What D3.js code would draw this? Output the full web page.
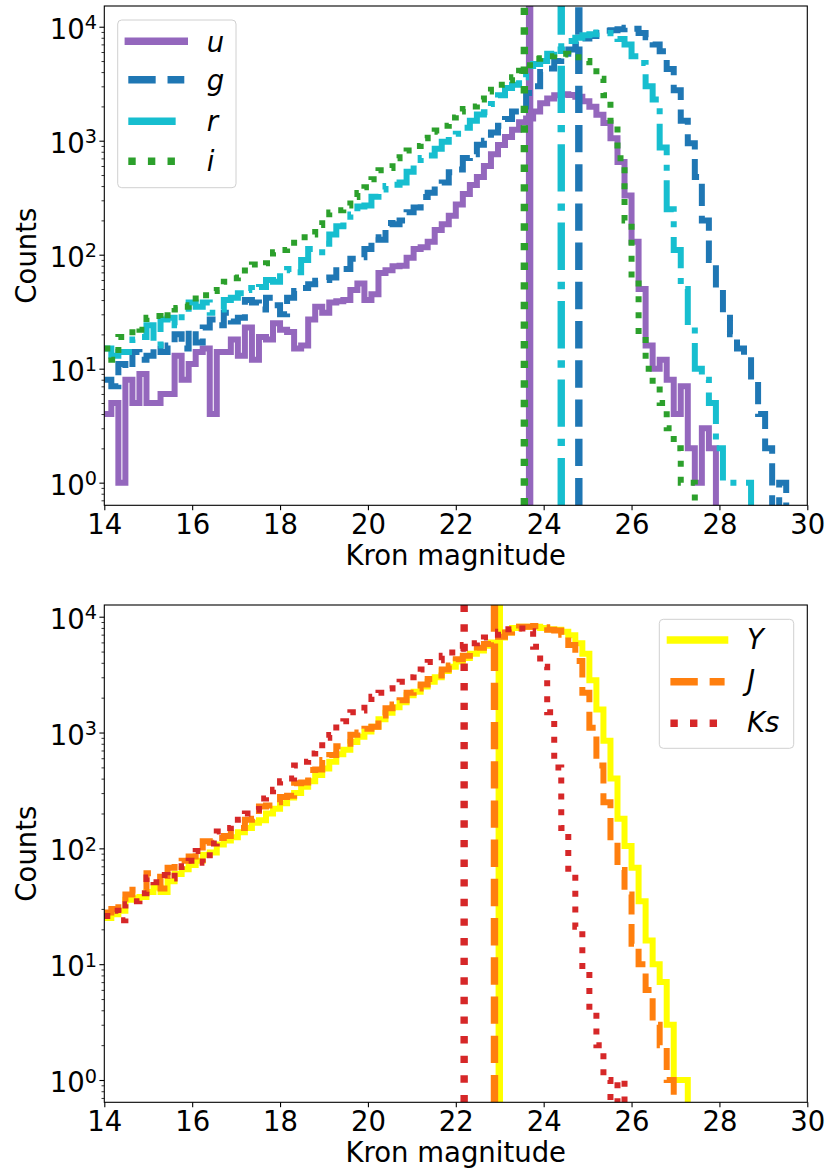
<!DOCTYPE html>
<html>
<head>
<meta charset="utf-8">
<script src="https://cdn.jsdelivr.net/npm/d3@7"></script>
<style>
  body { margin: 0; background: #fff; }
  svg text { font-family: 'DejaVu Sans', sans-serif; fill: #000; }
</style>
</head>
<body>
<svg id="chart" width="827" height="1169"></svg>
<script>
// histogram bins: 0.16 mag wide, first bin starts at 14.0
const binStart = 14;
const binWidth = 0.16;

// optical bands (top panel)
const uCounts = [4, 5, 1, 8, 5, 9, 5, 5, 6, 6,
  13, 8, 11, 14, 15, 4, 14, 14, 18, 13,
  23, 12, 19, 18, 25, 22, 21, 15, 16, 27,
  35, 31, 38, 39, 40, 49, 56, 40, 45, 69,
  73, 79, 80, 94, 112, 116, 130, 165, 185, 220,
  275, 340, 408, 480, 600, 760, 915, 1080, 1250, 1450,
  1570, 1800, 2130, 2350, 2500, 2560, 2520, 2430, 2220, 1990,
  1690, 1430, 1050, 650, 330, 130, 50, 16, 10, 12,
  8, 4, 7, 2, 1, 3, 2, 0];
const gCounts = [8, 7, 11, 10, 14, 12, 13, 16, 14, 16,
  20, 15, 22, 17, 23, 27, 24, 31, 26, 28,
  40, 38, 33, 42, 36, 30, 42, 48, 51, 55,
  59, 60, 63, 78, 75, 92, 95, 112, 142, 135,
  190, 185, 200, 236, 260, 320, 350, 408, 430, 530,
  560, 705, 760, 920, 1000, 1180, 1350, 1550, 1800, 2000,
  2620, 3000, 4000, 4300, 5000, 5800, 6300, 7000, 7900, 8300,
  8800, 9200, 9300, 9500, 9800, 9600, 8800, 8100, 7000, 6100,
  4250, 2770, 1500, 950, 480, 200, 90, 50, 28, 20,
  15, 13, 8, 4, 2, 0, 1, 0];
const rCounts = [15, 13, 14, 14, 18, 19, 24, 16, 27, 28,
  24, 30, 38, 35, 38, 31, 33, 40, 42, 46,
  51, 49, 52, 60, 58, 73, 75, 70, 90, 112,
  105, 125, 150, 178, 180, 225, 265, 270, 323, 373,
  400, 410, 430, 535, 620, 705, 740, 850, 980, 1080,
  1150, 1300, 1500, 1700, 1780, 2100, 2500, 2900, 3100, 3600,
  3900, 4700, 5000, 5800, 6300, 7200, 7500, 8000, 8400, 8600,
  8900, 8800, 8200, 7800, 7000, 5500, 4800, 3000, 2300, 870,
  250, 110, 50, 24, 10, 8, 5, 2, 1, 1,
  1, 1, 0];
const iCounts = [15, 12, 19, 19, 23, 22, 28, 29, 27, 34,
  33, 35, 36, 45, 44, 48, 49, 58, 62, 63,
  78, 82, 80, 84, 105, 110, 118, 138, 142, 150,
  182, 210, 235, 245, 270, 320, 347, 390, 460, 550,
  575, 700, 800, 820, 900, 1050, 1200, 1230, 1350, 1600,
  1800, 1900, 2000, 2300, 2700, 2800, 3100, 3400, 3600, 4100,
  4600, 5250, 5300, 5500, 5800, 5800, 5700, 5400, 5000, 4500,
  3500, 2500, 1500, 700, 200, 60, 20, 10, 7, 5,
  3, 2, 1, 1, 0];

// near-infrared bands (bottom panel)
const yCounts = [25, 27, 29, 36, 37, 38, 42, 46, 42, 52,
  60, 66, 72, 78, 88, 92, 108, 117, 125, 138,
  150, 166, 175, 200, 220, 245, 275, 300, 340, 380,
  430, 490, 560, 650, 710, 830, 920, 1020, 1120, 1300,
  1480, 1650, 1830, 2100, 2250, 2500, 2750, 3000, 3400, 3700,
  4100, 4400, 4800, 5100, 5600, 6000, 6600, 7300, 8000, 8200,
  8200, 8200, 8000, 7800, 7700, 7400, 6900, 5900, 4800, 2830,
  1580, 850, 400, 180, 105, 68, 35, 16, 10, 7,
  3, 1, 1, 0];
const jCounts = [28, 30, 34, 40, 44, 44, 61, 57, 45, 68,
  75, 78, 85, 91, 115, 112, 123, 128, 145, 150,
  177, 180, 230, 235, 250, 277, 285, 365, 370, 475,
  480, 580, 640, 760, 800, 955, 1000, 1080, 1120, 1400,
  1620, 1750, 1900, 2200, 2400, 2600, 2900, 3100, 3500, 3800,
  4300, 4600, 5000, 5400, 5800, 6200, 6700, 7300, 7900, 8200,
  8200, 8300, 8100, 7700, 7600, 7000, 5700, 4150, 2200, 1100,
  520, 250, 115, 65, 40, 15, 10, 6, 3, 2,
  1, 0];
const ksCounts = [26, 29, 24, 33, 35, 41, 56, 51, 59, 55,
  62, 70, 78, 95, 75, 110, 140, 150, 165, 177,
  200, 215, 270, 280, 320, 380, 400, 520, 560, 660,
  700, 900, 950, 1200, 1250, 1500, 1550, 1800, 2040, 2200,
  2400, 2600, 2750, 3000, 3330, 3500, 4070, 4200, 4600, 4900,
  5300, 5700, 5900, 6300, 6600, 7000, 7400, 7800, 8000, 7900,
  7500, 5500, 3700, 1500, 500, 150, 60, 21, 9, 4,
  2, 1, 0, 1, 0];

const topBands = ['u', 'g', 'r', 'i'];
const topLimits = [23.68, 24.8, 24.4, 23.56];
const bottomBands = ['Y', 'J', 'Ks'];
const bottomLimits = [22.99, 22.88, 22.19];

const xTicks = [14, 16, 18, 20, 22, 24, 26, 28, 30];
const yTicks = [1, 10, 100, 1000, 10000];
const yExponents = ['0', '1', '2', '3', '4'];

// histogram outlines are a bit thinner than the limit lines
const HIST_LW = 6;
const LINE_LW = 7.4;
const PATTERN = {
  solid: null,
  dashed: [3.7, 1.6],
  dotted: [1, 1.65],
  dashdot: [6.4, 1.6, 1, 1.6]
};
const dash = (style, lw) => PATTERN[style] ? PATTERN[style].map(d => d * lw).join(',') : null;
const FONT = 27.5;

const svg = d3.select('#chart');
const x = d3.scaleLinear().domain([14, 30]).range([104.3, 807.3]);

function stepPoints(counts, floor) {
  const pts = [];
  counts.forEach((c, k) => {
    const v = Math.max(c, floor);
    pts.push([binStart + k * binWidth, v]);
    pts.push([binStart + (k + 1) * binWidth, v]);
  });
  pts.push([binStart + counts.length * binWidth, floor]);
  return pts;
}

function drawPanel(id, opts) {
  const { top, bottom, yDomain, series, legend } = opts;
  const y = d3.scaleLog().domain(yDomain).range([bottom, top]);
  const floor = 0.05;

  svg.append('clipPath').attr('id', id)
    .append('rect')
    .attr('x', x(14)).attr('y', top)
    .attr('width', x(30) - x(14)).attr('height', bottom - top);

  const plot = svg.append('g').attr('clip-path', `url(#${id})`);
  const line = d3.line().x(d => x(d[0])).y(d => y(d[1]));

  series.forEach(s => {
    plot.append('path')
      .attr('d', line(stepPoints(s.counts, floor)))
      .attr('fill', 'none')
      .attr('stroke', s.color)
      .attr('stroke-width', HIST_LW)
      .attr('stroke-linejoin', 'miter')
      .attr('stroke-dasharray', dash(s.style, HIST_LW));

    plot.append('line')
      .attr('x1', x(s.limit)).attr('x2', x(s.limit))
      .attr('y1', bottom).attr('y2', top)
      .attr('stroke', s.color)
      .attr('stroke-width', LINE_LW)
      .attr('stroke-dasharray', dash(s.style, LINE_LW));
  });

  // frame
  svg.append('rect')
    .attr('x', x(14)).attr('y', top)
    .attr('width', x(30) - x(14)).attr('height', bottom - top)
    .attr('fill', 'none').attr('stroke', '#000').attr('stroke-width', 1.1);

  // x axis
  const xAxis = svg.append('g')
    .attr('transform', `translate(0,${bottom})`)
    .call(d3.axisBottom(x).tickValues(xTicks).tickSize(4.9).tickSizeOuter(0).tickPadding(4.6));
  xAxis.select('.domain').remove();
  xAxis.selectAll('line').attr('stroke', '#000').attr('stroke-width', 1.1);
  xAxis.selectAll('text').attr('font-size', FONT).attr('font-family', 'DejaVu Sans');

  // y axis, major + minor ticks
  const minor = [];
  for (let e = -1; e <= 4; e++) {
    for (let m = 2; m <= 9; m++) {
      const v = m * Math.pow(10, e);
      if (v > yDomain[0] && v < yDomain[1]) minor.push(v);
    }
  }
  const yMinor = svg.append('g')
    .attr('transform', `translate(${x(14)},0)`)
    .call(d3.axisLeft(y).tickValues(minor).tickSize(2.8).tickSizeOuter(0).tickFormat(''));
  yMinor.select('.domain').remove();
  yMinor.selectAll('line').attr('stroke', '#000').attr('stroke-width', 0.8);

  const yMajor = svg.append('g')
    .attr('transform', `translate(${x(14)},0)`)
    .call(d3.axisLeft(y).tickValues(yTicks).tickSize(4.9).tickSizeOuter(0).tickFormat(''));
  yMajor.select('.domain').remove();
  yMajor.selectAll('line').attr('stroke', '#000').attr('stroke-width', 1.1);

  yTicks.forEach((v, i) => {
    const t = svg.append('text')
      .attr('x', 97).attr('y', y(v) + 12)
      .attr('text-anchor', 'end')
      .attr('font-size', FONT);
    t.append('tspan').text('10');
    t.append('tspan').attr('font-size', FONT * 0.7).attr('dy', -9.5).text(yExponents[i]);
  });

  // axis titles
  svg.append('text')
    .attr('x', (x(14) + x(30)) / 2).attr('y', bottom + 59.4)
    .attr('text-anchor', 'middle').attr('font-size', FONT)
    .text('Kron magnitude');
  svg.append('text')
    .attr('transform', `translate(36,${(top + bottom) / 2}) rotate(-90)`)
    .attr('text-anchor', 'middle').attr('font-size', FONT)
    .text('Counts');

  // legend
  const lg = svg.append('g');
  lg.append('rect')
    .attr('x', legend.x).attr('y', legend.y)
    .attr('width', legend.w).attr('height', legend.h)
    .attr('rx', 4).attr('ry', 4)
    .attr('fill', '#fff').attr('fill-opacity', 0.8)
    .attr('stroke', '#d0d0d0').attr('stroke-width', 1);
  series.forEach((s, i) => {
    const ly = legend.rows[i];
    lg.append('line')
      .attr('x1', legend.hx0).attr('x2', legend.hx1)
      .attr('y1', ly).attr('y2', ly)
      .attr('stroke', s.color)
      .attr('stroke-width', LINE_LW)
      .attr('stroke-linecap', s.style === 'solid' ? 'square' : 'butt')
      .attr('stroke-dasharray', dash(s.style, LINE_LW));
    lg.append('text')
      .attr('x', legend.hx1 + 22.4).attr('y', ly + legend.textDy)
      .attr('font-size', FONT).attr('font-style', 'italic')
      .text(s.name);
  });
}

drawPanel('clip-top', {
  top: 6, bottom: 505.3,
  yDomain: [0.633, 15200],
  series: [
    { name: topBands[0], counts: uCounts, color: '#9467bd', style: 'solid', limit: topLimits[0] },
    { name: topBands[1], counts: gCounts, color: '#1f77b4', style: 'dashed', limit: topLimits[1] },
    { name: topBands[2], counts: rCounts, color: '#17becf', style: 'dashdot', limit: topLimits[2] },
    { name: topBands[3], counts: iCounts, color: '#2ca02c', style: 'dotted', limit: topLimits[3] }
  ],
  legend: { x: 117.7, y: 20, w: 118.3, h: 167.7, hx0: 128.3, hx1: 184.3,
    rows: [41.3, 79.7, 121.2, 161.2], textDy: 10.2 }
});

drawPanel('clip-bottom', {
  top: 605, bottom: 1102.3,
  yDomain: [0.642, 12620],
  series: [
    { name: bottomBands[0], counts: yCounts, color: '#ffff00', style: 'solid', limit: bottomLimits[0] },
    { name: bottomBands[1], counts: jCounts, color: '#ff7f0e', style: 'dashed', limit: bottomLimits[1] },
    { name: bottomBands[2], counts: ksCounts, color: '#d62728', style: 'dotted', limit: bottomLimits[2] }
  ],
  legend: { x: 659.3, y: 619.3, w: 134.4, h: 129, hx0: 670.4, hx1: 724.6,
    rows: [640, 681.7, 723.3], textDy: 8.5 }
});
</script>
</body>
</html>
